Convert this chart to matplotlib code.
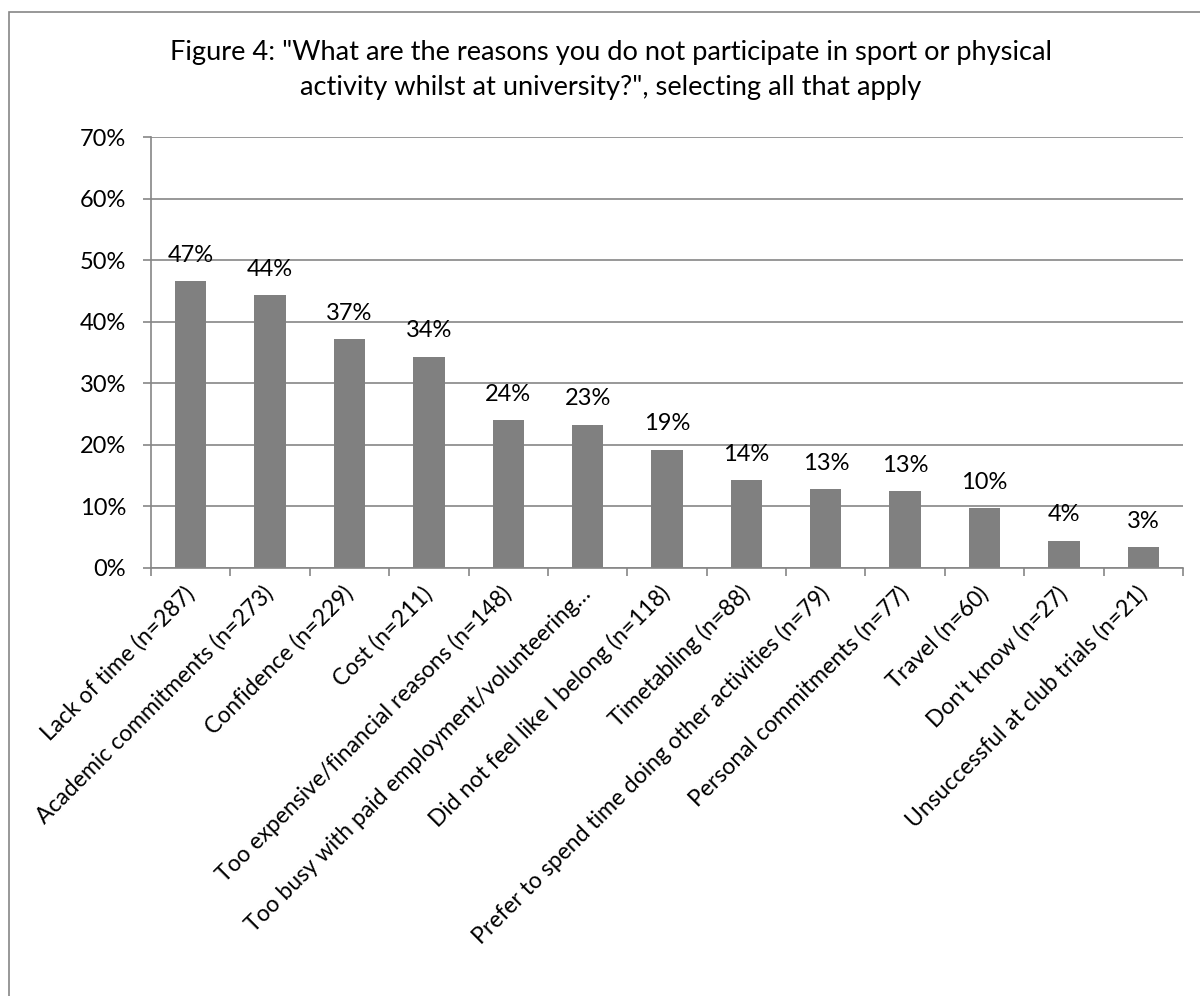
import matplotlib
matplotlib.use("Agg")
import matplotlib.pyplot as plt
from matplotlib.patches import Rectangle
from matplotlib.ticker import FixedLocator, PercentFormatter
import numpy as np

# Datos
reasons = [
    "Lack of time (n=287)",
    "Academic commitments (n=273)",
    "Confidence (n=229)",
    "Cost (n=211)",
    "Too expensive/financial reasons (n=148)",
    "Too busy with paid employment/volunteering\u2026",
    "Did not feel like I belong (n=118)",
    "Timetabling (n=88)",
    "Prefer to spend time doing other activities (n=79)",
    "Personal commitments (n=77)",
    "Travel (n=60)",
    "Don't know (n=27)",
    "Unsuccessful at club trials (n=21)",
]
share = [0.466, 0.443, 0.372, 0.343, 0.240, 0.233, 0.192,
         0.143, 0.128, 0.125, 0.097, 0.044, 0.034]
value_labels = ["47%", "44%", "37%", "34%", "24%", "23%", "19%",
                "14%", "13%", "13%", "10%", "4%", "3%"]
yticks = [0, 0.1, 0.2, 0.3, 0.4, 0.5, 0.6, 0.7]

title = ('Figure 4: "What are the reasons you do not participate in sport or physical\n'
         'activity whilst at university?", selecting all that apply')

plt.rcParams['font.family'] = ['Lato', 'DejaVu Sans']
gris = '#868686'
fs = 17

fig = plt.figure(figsize=(12, 9.96), dpi=100)
ax = fig.add_axes([151/1200, 1 - 568/996, (1183 - 151)/1200, (568 - 137)/996])

x = np.arange(len(reasons))
ax.bar(x, share, width=0.395, color='#808080', zorder=3)

for xi, v, lab in zip(x, share, value_labels):
    ax.annotate(lab, (xi, v), xytext=(0, 14), textcoords='offset points',
                ha='center', va='baseline', fontsize=fs, color='black')

ax.set_xlim(-0.5, len(reasons) - 0.5)
ax.set_ylim(0, 0.7)
ax.set_yticks(yticks)
ax.yaxis.set_major_formatter(PercentFormatter(1.0, decimals=0))
ax.grid(axis='y', color=gris, linewidth=1.2, zorder=0)

ax.set_xticks(x)
ax.set_xticklabels(reasons, rotation=45, ha='right', va='center',
                   rotation_mode='anchor', fontsize=16.5)
ax.xaxis.set_minor_locator(FixedLocator(np.arange(-0.5, len(reasons), 1.0)))
ax.tick_params(axis='x', which='major', length=0, pad=16)
ax.tick_params(axis='x', which='minor', length=6, width=1.2, color=gris, direction='out')
ax.tick_params(axis='y', length=6, width=1.2, color=gris, pad=12, labelsize=fs)

for s in ['top', 'right']:
    ax.spines[s].set_visible(False)
for s in ['left', 'bottom']:
    ax.spines[s].set_color(gris)
    ax.spines[s].set_linewidth(1.2)
    ax.spines[s].set_zorder(4)

fig.text(611/1200, 1 - 70/996, title, ha='center', va='center',
         fontsize=19.6, linespacing=1.5)

# borde del area del grafico (recortado a derecha y abajo)
fig.patches.append(Rectangle((9/1200, -0.05), 1.2, 1.05 - 12/996,
                             transform=fig.transFigure, fill=False,
                             edgecolor=gris, linewidth=1.2))

fig.savefig('out.png', dpi=100)
